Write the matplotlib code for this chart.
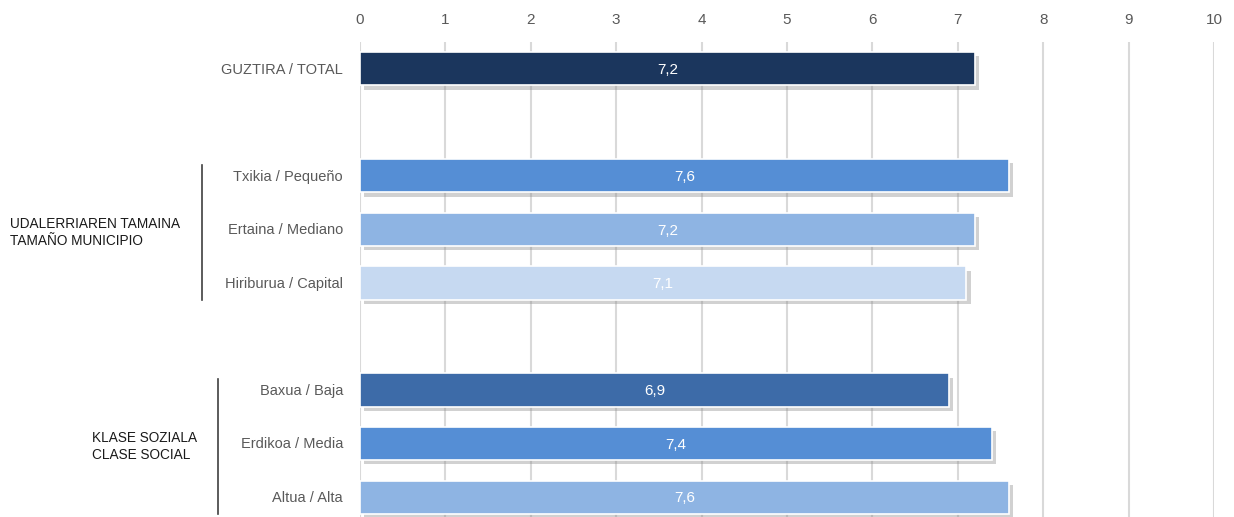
import matplotlib
matplotlib.use("Agg")
import matplotlib.pyplot as plt
import matplotlib.patheffects as pe

# données
categories = ["GUZTIRA / TOTAL",
              "Txikia / Pequeño", "Ertaina / Mediano", "Hiriburua / Capital",
              "Baxua / Baja", "Erdikoa / Media", "Altua / Alta"]
valeurs = [7.2, 7.6, 7.2, 7.1, 6.9, 7.4, 7.6]
positions = [0, 2, 3, 4, 6, 7, 8]
couleurs = ["#1b365d", "#558ed5", "#8eb4e3", "#c6d9f1", "#3d6ba8", "#558ed5", "#8eb4e3"]
groupes = [("UDALERRIAREN TAMAINA\nTAMAÑO MUNICIPIO", 2, 4),
           ("KLASE SOZIALA\nCLASE SOCIAL", 6, 8)]

GRIS_TXT, GRILLE = "#595959", "#d9d9d9"

plt.rcParams["font.family"] = ["Liberation Sans", "DejaVu Sans"]

fig = plt.figure(figsize=(12.34, 5.17), dpi=100)
ax = fig.add_axes([360 / 1234, 0, 854 / 1234, 1 - 42 / 517])

ombre = [pe.SimplePatchShadow(offset=(3, -3), shadow_rgbFace="#8c8c8c", alpha=0.4), pe.Normal()]
barres = ax.barh(positions, valeurs, height=0.62, color=couleurs,
                 edgecolor="white", linewidth=1.2, zorder=3)
for b in barres:
    b.set_path_effects(ombre)

for y, v in zip(positions, valeurs):
    ax.text(v / 2, y + 0.02, f"{v:.1f}".replace(".", ","), color="white",
            ha="center", va="center", fontsize=11, zorder=4)

ax.set_xlim(0, 10)
ax.set_ylim(8.37, -0.5)
ax.set_xticks(range(11))
ax.xaxis.tick_top()
ax.tick_params(axis="x", length=0, labelsize=11, labelcolor=GRIS_TXT, pad=11)
ax.set_yticks([])
for s in ax.spines.values():
    s.set_visible(False)
ax.grid(True, axis="x", color=GRILLE, lw=1.5, zorder=0)
ax.set_axisbelow(True)

# libellés de catégories
for y, c in zip(positions, categories):
    fig.text(343 / 1234, 1 - (70 + y * 53.5) / 517, c, ha="right", va="center",
             fontsize=10.5, color=GRIS_TXT)

# groupes
xs_ligne = [202, 218]
xs_txt = [10, 92]
for (nom, y0, y1), xl, xt in zip(groupes, xs_ligne, xs_txt):
    top = 1 - (69 + y0 * 53.5 - 11) / 517
    bas = 1 - (69 + y1 * 53.5 + 17) / 517
    fig.add_artist(plt.Line2D([xl / 1234, xl / 1234], [bas, top], color="#404040", lw=1.2))
    fig.text(xt / 1234, (top + bas) / 2, nom, ha="left", va="center",
             fontsize=9.8, color="#1a1a1a", linespacing=1.3)

fig.savefig("out.png", dpi=100)
